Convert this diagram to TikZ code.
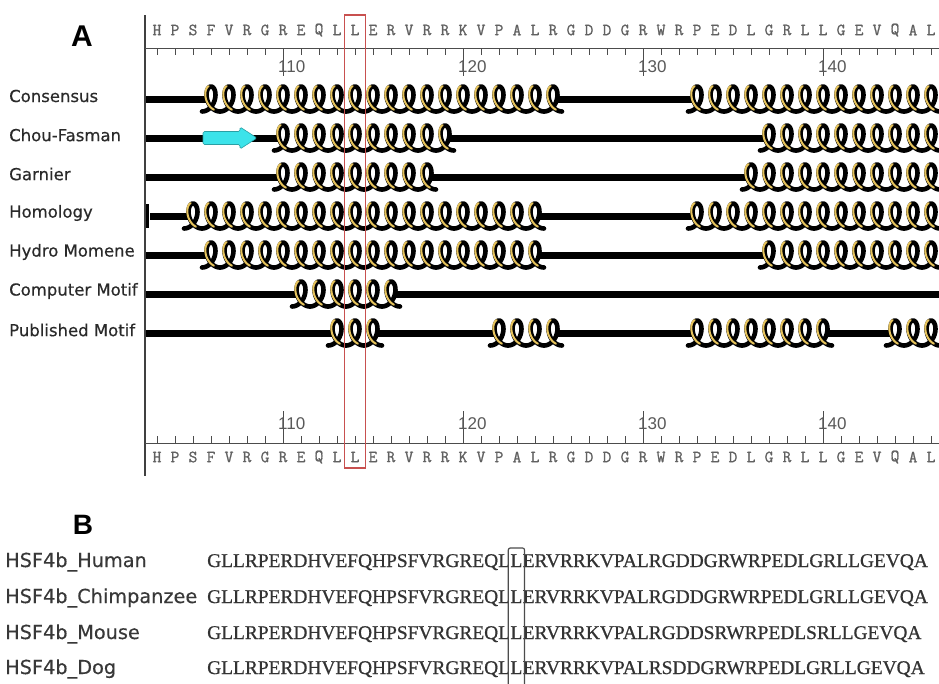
\documentclass[tikz,border=0pt]{standalone}
\usepackage{fontspec}
\setmainfont{DejaVu Sans}
\newfontfamily\lblfont[FakeBold=0.4]{DejaVu Sans}
\newfontfamily\spfont[FakeBold=0.3]{DejaVu Sans}
\newfontfamily\numfont{Liberation Sans}
\newfontfamily\rulerfont[FakeBold=1.2]{Latin Modern Mono}
\newfontfamily\alnfont[FakeBold=0.8]{Liberation Serif}
\definecolor{helixgold}{HTML}{E6C35C}
\definecolor{redbox}{HTML}{C8504F}
\definecolor{strandcol}{HTML}{3CE3EA}
\definecolor{txtcol}{HTML}{2A2A2A}
\newcommand\helixcoil[2]{%
  \pgfmathsetmacro\hcx{283+18*(#1-110)}%
  \draw[coilback] plot[domain=-3.14159:3.14159, samples=31, variable=\t]
    ({\hcx + 2.8648*\t - 8.5*sin(\t r)}, {#2 - 12.5*cos(\t r)});
  \draw[coilfront] plot[domain=0.2:2.7, samples=16, variable=\t]
    ({\hcx - 1.2 + 2.8648*\t - 8.5*sin(\t r)}, {#2 - 0.6 - 12.5*cos(\t r)});
}
\newcommand\drawhelix[3]{\foreach \hn in {#1,...,#2}{\helixcoil{\hn}{#3}}}
\newcommand\trk[3]{\draw[track] (#1,#3) -- (#2,#3);}
\begin{document}
\begin{tikzpicture}[x=1pt,y=-1pt,
  track/.style={line width=7pt, black},
  coilback/.style={line width=4.6pt, black, line cap=round, line join=round},
  coilfront/.style={line width=2pt, helixgold, line cap=round},
  axisline/.style={line width=1.3pt, black!75},
  tickline/.style={line width=1pt, black!70},
  rowlabel/.style={font=\lblfont\fontsize{16.5}{18}\selectfont, text=txtcol, anchor=west, inner sep=0pt},
  resletter/.style={font=\rulerfont\fontsize{17}{17}\selectfont, text=black!62, inner sep=0pt},
  ticklabel/.style={font=\numfont\fontsize{17}{17}\selectfont, text=black!65, anchor=west, inner sep=0pt},
  panellabel/.style={font=\numfont\bfseries\fontsize{30}{30}\selectfont, inner sep=0pt},
  species/.style={font=\spfont\fontsize{19.3}{20}\selectfont, text=black!78, anchor=base west, inner sep=0pt},
  aln/.style={font=\alnfont\fontsize{19.4}{20}\selectfont, text=black!80, anchor=base west, inner sep=0pt}
]
\useasboundingbox (0,0) rectangle (939,683);
\fill[white] (0,0) rectangle (939,683);

% panel labels
\node[panellabel] (pA) at (82,36) {A};
\node[panellabel, font=\numfont\bfseries\fontsize{28}{28}\selectfont] (pB) at (83,525) {B};

% row labels
\foreach \lab [count=\i from 0] in {Consensus,Chou-Fasman,Garnier,Homology,Hydro Momene,Computer Motif,Published Motif}{
  \node[rowlabel] (lab\i) at (9,{96+39*\i}) {\lab};
}

% vertical axis
\draw[axisline] (145,15) -- (145,476);

% rulers
\draw[tickline] (145,48) -- (939,48);
\draw[tickline] (145,443) -- (939,443);
\foreach \n in {103,...,146}{
  \draw[tickline] ({283+18*(\n-110)},48) -- ({283+18*(\n-110)},55);
  \draw[tickline] ({283+18*(\n-110)},443) -- ({283+18*(\n-110)},436);
}
\foreach \m in {110,120,130,140}{
  \draw[tickline] ({283+18*(\m-110)},48) -- ({283+18*(\m-110)},76);
  \draw[tickline] ({283+18*(\m-110)},443) -- ({283+18*(\m-110)},411);
  \node[ticklabel] (tt\m) at ({278+18*(\m-110)},67) {\m};
  \node[ticklabel] (bt\m) at ({278+18*(\m-110)},424) {\m};
}

% sequence letters
\foreach \ch [count=\i from 103] in {H,P,S,F,V,R,G,R,E,Q,L,L,E,R,V,R,R,K,V,P,A,L,R,G,D,D,G,R,W,R,P,E,D,L,G,R,L,L,G,E,V,Q,A,L}{
  \node[resletter] (ts\i) at ({283+18*(\i-110)},30) {\ch};
  \node[resletter] (bs\i) at ({283+18*(\i-110)},457) {\ch};
}

\begin{scope}
\clip (146,0) rectangle (939,683);
\node[resletter] (tq) at (139,30) {Q};
\node[resletter] (bq) at (139,457) {Q};
% Consensus
\trk{146}{206}{99} \drawhelix{106}{125}{99} \trk{558}{692}{99} \drawhelix{133}{147}{99}
% Chou-Fasman
\trk{146}{278}{138}
\draw[fill=strandcol, draw=strandcol!70!black, line width=0.6pt, rounded corners=1.5pt]
  (203,131.5) -- (240,131.5) -- (240,127) -- (257,138) -- (240,149) -- (240,144.5) -- (203,144.5) -- cycle;
\drawhelix{110}{119}{138} \trk{450}{764}{138} \drawhelix{137}{147}{138}
% Garnier
\trk{146}{278}{177} \drawhelix{110}{118}{177} \trk{432}{746}{177} \drawhelix{136}{147}{177}
% Homology
\draw[line width=3pt, black] (149,226) -- (147.5,226) -- (147.5,205) -- (149,205);
\trk{150}{188}{216} \drawhelix{105}{124}{216} \trk{540}{692}{216} \drawhelix{133}{147}{216}
% Hydro Momene
\trk{146}{206}{255} \drawhelix{106}{124}{255} \trk{540}{764}{255} \drawhelix{137}{147}{255}
% Computer Motif
\trk{146}{296}{294} \drawhelix{111}{116}{294} \trk{396}{939}{294}
% Published Motif
\trk{146}{332}{333} \drawhelix{113}{115}{333} \trk{378}{494}{333} \drawhelix{122}{125}{333}
\trk{558}{692}{333} \drawhelix{133}{140}{333} \trk{828}{890}{333} \drawhelix{144}{147}{333}
\end{scope}

% red highlight box
\draw[redbox, line width=1.5pt] (344.5,15) rectangle (365.5,468);

% panel B
\node[species] (n1) at (5,567) {HSF4b\_Human};
\node[species] (n2) at (5,603) {HSF4b\_Chimpanzee};
\node[species] (n3) at (5,639) {HSF4b\_Mouse};
\node[species] (n4) at (5,674) {HSF4b\_Dog};

\foreach \suf [count=\r] in {ERVRRKVPALRGDDGRWRPEDLGRLLGEVQA,ERVRRKVPALRGDDGRWRPEDLGRLLGEVQA,ERVRRKVPALRGDDSRWRPEDLSRLLGEVQA,ERVRRKVPALRSDDGRWRPEDLGRLLGEVQA}{
  \pgfmathsetmacro\yb{{567,603,639,674}[\r-1]}
  \node[aln] (sa\r) at (207,\yb) {GLLRPERDHVEFQHPSFVRGREQL};
  \node[aln] (sb\r) at (sa\r.base east) {L};
  \node[aln] (sc\r) at (sb\r.base east) {\suf};
}
\draw[black!70, line width=1.2pt, rounded corners=2pt]
  ([xshift=-2pt]sb1.west |- 0,690) -- ([xshift=-2pt]sb1.west |- 0,548) -- ([xshift=2pt]sb1.east |- 0,548) -- ([xshift=2pt]sb1.east |- 0,690);
\end{tikzpicture}
\end{document}
